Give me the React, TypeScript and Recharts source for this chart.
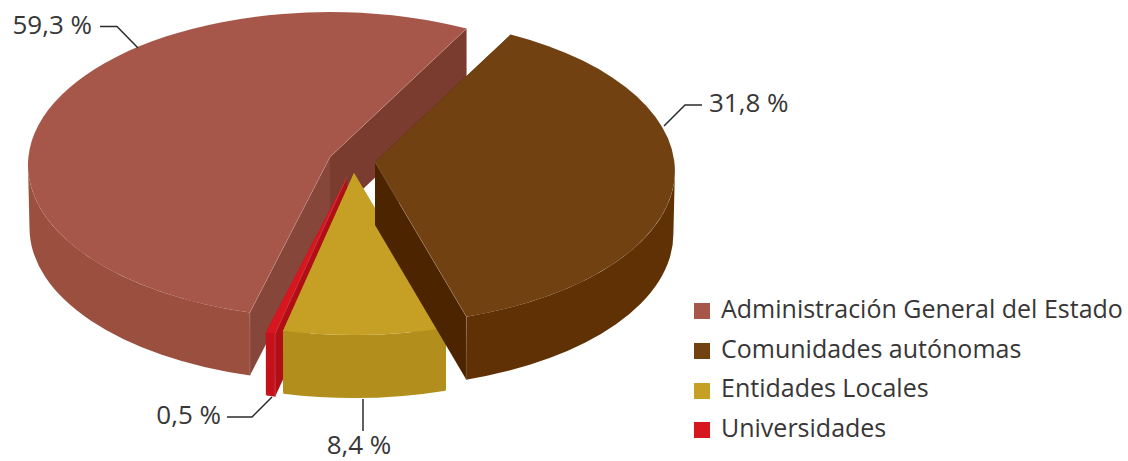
import { PieChart, Pie, Legend } from 'recharts';

// Printed labels are kept as printed. The drawn shares are measured from the slices
// in the picture, which do not follow the printed percentages for the two big slices.
const categories = ['Administración General del Estado', 'Universidades', 'Entidades Locales', 'Comunidades autónomas'];
const printedLabels = ['59,3 %', '0,5 %', '8,4 %', '31,8 %'];
const drawnShares = [53.2, 0.5, 8.7, 37.6];

const topColors = ['#a75749', '#d8161f', '#c6a025', '#724112'];
const wallColors = ['#9a4f3f', '#c5121a', '#b28f1d', '#603105'];
const startFaceColors = ['#7a3c2e', '#b00f15', '#b28f1d', '#4c2500'];
const endFaceColors = ['#87463a', '#b00f15', '#b28f1d', '#4c2500'];

// how far each slice is pulled away from the pie centre, and where its tip sits
const centerOffsets = [[-20, -10], [-4, 10], [4, 7], [25, -4]];
const tipShift = [[0, -8], [1, -8], [0, -9], [0, -9]];
const widthScale = [1, 1, 1, 0.993];

const labelAnchors: any[] = [
  { x: 92, y: 34, anchor: 'end', line: '100,26.5 117,26.5 138,48' },
  { x: 221, y: 424, anchor: 'end', line: '227,417 252,417 272,397' },
  { x: 359, y: 453.5, anchor: 'middle', line: '363,399 363,431' },
  { x: 709, y: 112, anchor: 'start', line: '702,105 685,105 664,126' },
];

const FONT = '"Open Sans", sans-serif';
const TEXT = '#383637';
const SQUASH = 153 / 302;
const DEPTH = 63;
const BOTTOM_SCALE = 0.995;

const chartData = categories.map((name, i) => ({ name, value: drawnShares[i], fill: topColors[i], order: i }));

function Slice3D(props: any) {
  const { cx, cy, outerRadius, startAngle, endAngle, payload } = props;
  const i = payload.order;
  const ox = cx + centerOffsets[i][0];
  const oy = cy + centerOffsets[i][1];
  const rx = outerRadius * widthScale[i];
  const ry = outerRadius * SQUASH;
  const s = Math.min(startAngle, endAngle);
  const e = Math.max(startAngle, endAngle);
  const pt = (deg: number, k = 1) => {
    const r = (deg * Math.PI) / 180;
    return [ox + k * rx * Math.cos(r), oy - ry * Math.sin(r)];
  };
  const tip = [ox + tipShift[i][0], oy + tipShift[i][1]];
  const cos = (deg: number) => Math.cos((deg * Math.PI) / 180);
  const ps = pt(s);
  const pe = pt(e);

  const face = (p: number[], color: string) => (
    <path
      d={`M${tip[0]},${tip[1]} L${p[0]},${p[1]} L${p[0]},${p[1] + DEPTH} L${tip[0]},${tip[1] + DEPTH} Z`}
      fill={color}
    />
  );

  // only the front half of the rim shows a wall
  const walls: any[] = [];
  [[180, 360], [540, 720]].forEach(([lo, hi], k) => {
    const a = Math.max(s, lo);
    const b = Math.min(e, hi);
    if (b <= a) return;
    const pa = pt(a);
    const pb = pt(b);
    const qa = pt(a, BOTTOM_SCALE);
    const qb = pt(b, BOTTOM_SCALE);
    const large = b - a > 180 ? 1 : 0;
    walls.push(
      <path
        key={k}
        d={`M${pa[0]},${pa[1]} A${rx},${ry} 0 ${large} 0 ${pb[0]},${pb[1]} L${qb[0]},${qb[1] + DEPTH} A${rx * BOTTOM_SCALE},${ry} 0 ${large} 1 ${qa[0]},${qa[1] + DEPTH} Z`}
        fill={wallColors[i]}
      />
    );
  });

  const showStart = cos(s) > 0;
  const showEnd = cos(e) < 0;
  const large = e - s > 180 ? 1 : 0;
  return (
    <g>
      {!showStart && face(ps, startFaceColors[i])}
      {!showEnd && face(pe, endFaceColors[i])}
      {showStart && face(ps, startFaceColors[i])}
      {showEnd && face(pe, endFaceColors[i])}
      {walls}
      <path d={`M${tip[0]},${tip[1]} L${ps[0]},${ps[1]} A${rx},${ry} 0 ${large} 0 ${pe[0]},${pe[1]} Z`} fill={topColors[i]} />
      {showStart && <line x1={ps[0]} y1={ps[1]} x2={ps[0]} y2={ps[1] + DEPTH} stroke="#fff" strokeOpacity={0.2} strokeWidth={0.8} />}
      {showEnd && <line x1={pe[0]} y1={pe[1]} x2={pe[0]} y2={pe[1] + DEPTH} stroke="#fff" strokeOpacity={0.2} strokeWidth={0.8} />}
      {showStart && <line x1={tip[0]} y1={tip[1]} x2={ps[0]} y2={ps[1]} stroke="#fff" strokeOpacity={0.2} strokeWidth={0.8} />}
      {showEnd && <line x1={tip[0]} y1={tip[1]} x2={pe[0]} y2={pe[1]} stroke="#fff" strokeOpacity={0.2} strokeWidth={0.8} />}
    </g>
  );
}

function renderLabel(props: any) {
  const i = props.payload?.order ?? props.index;
  const a = labelAnchors[i];
  return (
    <g>
      <polyline points={a.line} fill="none" stroke="#2b2b2b" strokeWidth={1.5} />
      <text x={a.x} y={a.y} textAnchor={a.anchor} fontFamily={FONT} fontSize={26} fill={TEXT}>
        {printedLabels[i]}
      </text>
    </g>
  );
}

export default function App() {
  return (
    <div style={{ position: 'absolute', left: 0, top: 0, width: 1128, height: 461, background: '#fff' }}>
      <PieChart width={1128} height={461} margin={{ top: 0, right: 0, bottom: 0, left: 0 }}>
        <Pie
          data={chartData}
          dataKey="value"
          nameKey="name"
          cx={350}
          cy={175}
          outerRadius={302}
          startAngle={63.1}
          endAngle={423.1}
          paddingAngle={0}
          stroke="none"
          shape={Slice3D}
          activeShape={Slice3D}
          inactiveShape={Slice3D}
          label={renderLabel}
          labelLine={false}
          isAnimationActive={false}
        />
        <Legend
          layout="vertical"
          align="right"
          verticalAlign="top"
          iconType="square"
          iconSize={16}
          itemSorter="value"
          wrapperStyle={{ position: 'absolute', left: 694, top: 289, width: 434, right: 'auto', lineHeight: '39.7px', fontSize: 25, fontFamily: FONT }}
          formatter={(value: string) => (
            <span style={{ color: TEXT, fontFamily: FONT, fontSize: 25, marginLeft: 7, whiteSpace: 'nowrap' }}>{value}</span>
          )}
        />
      </PieChart>
    </div>
  );
}
